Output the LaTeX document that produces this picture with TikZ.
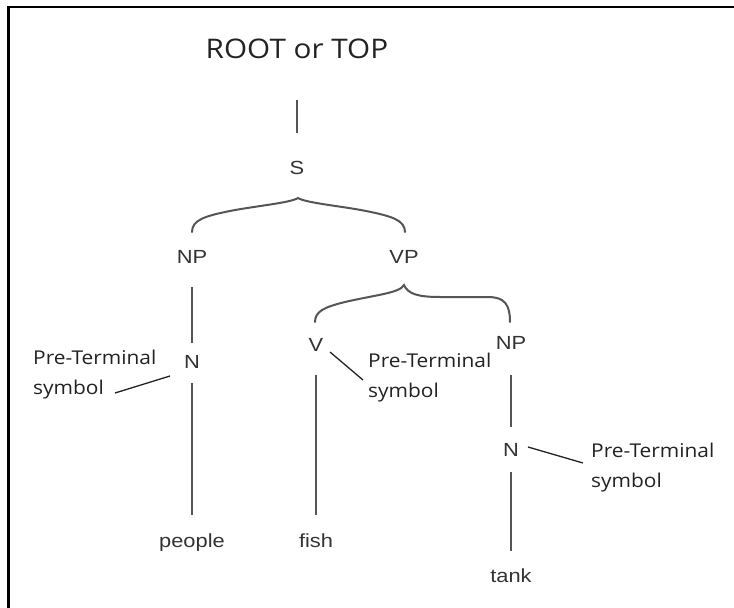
\documentclass[tikz,border=0pt]{standalone}
\usepackage{fontspec}
\newfontfamily\notefont[FakeStretch=1.1]{Open Sans}
\newfontfamily\treefont[FakeStretch=1.15]{Liberation Sans}
\definecolor{treegray}{HTML}{333333}
\definecolor{linegray}{HTML}{555555}
\definecolor{notegray}{HTML}{222222}

\begin{document}
\begin{tikzpicture}[
  x=1pt,y=-1pt,
  cat/.style={inner sep=0pt,text=treegray,font=\treefont\fontsize{19}{20}\selectfont},
  word/.style={cat,anchor=base},
  note/.style={inner sep=0pt,anchor=west,align=left,text=notegray,font=\notefont\fontsize{19}{30}\selectfont},
  edge/.style={draw=linegray,line width=2pt},
  pointer/.style={draw=notegray,line width=1.3pt},
  brace/.style={draw=linegray,line width=2pt,line cap=round}
]
  \useasboundingbox (0,0) rectangle (734,608);
  \draw[line width=2.6pt] (8.3,608) -- (8.3,7) -- (734,7);

  \node[inner sep=0pt,text=notegray,font=\notefont\fontsize{27}{30}\selectfont] (root) at (297,49) {ROOT or TOP};
  \node[cat] (s) at (297,168) {S};
  \node[cat] (np-subj) at (192,257) {NP};
  \node[cat] (vp) at (404,257) {VP};
  \node[cat] (n-subj) at (192,362) {N};
  \node[cat] (v) at (316,345) {V};
  \node[cat] (np-obj) at (511,343) {NP};
  \node[cat] (n-obj) at (511,450) {N};
  \node[word] (people) at (192,547) {people};
  \node[word] (fish) at (316,547) {fish};
  \node[word] (tank) at (511,582) {tank};

  \node[note] (note-subj) at (33,375) {Pre-Terminal\\symbol};
  \node[note] (note-verb) at (368,378) {Pre-Terminal\\symbol};
  \node[note] (note-obj) at (591,468) {Pre-Terminal\\symbol};

  \draw[edge,shorten <=51pt,shorten >=35pt] (root.center) -- (s.center);
  \draw[edge,shorten <=30pt,shorten >=19pt] (np-subj.center) -- (n-subj.center);
  \draw[edge,shorten <=21pt,shorten >=27pt] (n-subj.center) -- (people.center);
  \draw[edge,shorten <=30pt,shorten >=25pt] (v.center) -- (fish.center);
  \draw[edge,shorten <=32pt,shorten >=23pt] (np-obj.center) -- (n-obj.center);
  \draw[edge,shorten <=22pt,shorten >=24pt] (n-obj.center) -- (tank.center);

  % braces under S and VP
  \draw[brace] (192,232) .. controls (192,220) and (205,216) .. (230,211)
    .. controls (255,206) and (290,203) .. (298,198)
    .. controls (306,203) and (341,206) .. (366,211)
    .. controls (391,216) and (405,220) .. (405,232);
  \draw[brace] (315,322) .. controls (315,311) and (325,307) .. (345,302)
    .. controls (375,295) and (400,293) .. (404,285)
    .. controls (408,294) and (418,297) .. (440,297)
    -- (488,297) .. controls (505,297) and (510,305) .. (510,322);

  \coordinate (tip-subj) at (115,393);
  \coordinate (tip-verb) at (363,380);
  \coordinate (tip-obj) at (583,463);
  \draw[pointer] (tip-subj) -- (170,376);
  \draw[pointer] (330,352) -- (tip-verb);
  \draw[pointer] (528,447) -- (tip-obj);
\end{tikzpicture}
\end{document}
